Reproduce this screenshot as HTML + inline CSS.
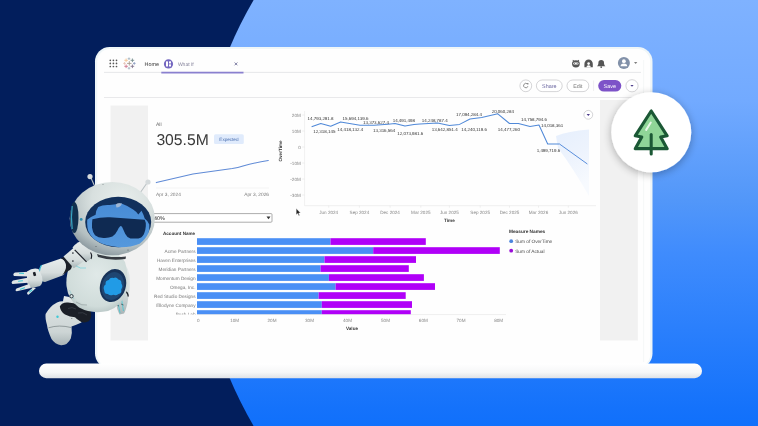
<!DOCTYPE html>
<html><head><meta charset="utf-8">
<style>
html,body{margin:0;padding:0;width:758px;height:426px;overflow:hidden;background:#021e5c;}
svg{display:block;will-change:transform;filter:blur(0.3px);text-rendering:geometricPrecision;font-family:"Liberation Sans",sans-serif;}
</style></head>
<body>
<svg width="758" height="426" viewBox="0 0 758 426">
<defs>
  <linearGradient id="bgb" x1="0" y1="0" x2="0" y2="1">
    <stop offset="0" stop-color="#7fb2ff"/>
    <stop offset="0.235" stop-color="#72aaff"/>
    <stop offset="0.47" stop-color="#5297f9"/>
    <stop offset="0.59" stop-color="#408cfd"/>
    <stop offset="0.96" stop-color="#1472fb"/>
    <stop offset="1" stop-color="#1070fb"/>
  </linearGradient>
  <linearGradient id="base" x1="0" y1="0" x2="0" y2="1">
    <stop offset="0" stop-color="#ffffff"/>
    <stop offset="0.6" stop-color="#f6f7f8"/>
    <stop offset="1" stop-color="#dfe2e6"/>
  </linearGradient>
  <filter id="sh" x="-30%" y="-30%" width="160%" height="160%">
    <feGaussianBlur in="SourceAlpha" stdDeviation="3"/>
    <feOffset dx="0" dy="2"/>
    <feComponentTransfer><feFuncA type="linear" slope="0.25"/></feComponentTransfer>
    <feMerge><feMergeNode/><feMergeNode in="SourceGraphic"/></feMerge>
  </filter>
  <filter id="sh2" x="-30%" y="-30%" width="160%" height="160%">
    <feGaussianBlur in="SourceAlpha" stdDeviation="4"/>
    <feOffset dx="-0.5" dy="1.5"/>
    <feComponentTransfer><feFuncA type="linear" slope="0.3"/></feComponentTransfer>
    <feMerge><feMergeNode/><feMergeNode in="SourceGraphic"/></feMerge>
  </filter>

  <radialGradient id="helm" cx="0.62" cy="0.25" r="0.8">
    <stop offset="0" stop-color="#e8eeec"/>
    <stop offset="0.45" stop-color="#d8e0df"/>
    <stop offset="0.8" stop-color="#b4bfc1"/>
    <stop offset="1" stop-color="#85939a"/>
  </radialGradient>
  <radialGradient id="bodyg" cx="0.5" cy="0.4" r="0.78">
    <stop offset="0" stop-color="#e0e9e8"/>
    <stop offset="0.65" stop-color="#d0dcda"/>
    <stop offset="1" stop-color="#9aaaab"/>
  </radialGradient>
  <linearGradient id="armg" x1="0" y1="0" x2="0" y2="1">
    <stop offset="0" stop-color="#e8eded"/>
    <stop offset="0.6" stop-color="#d6dddd"/>
    <stop offset="1" stop-color="#a8b4b6"/>
  </linearGradient>
  <linearGradient id="footg" x1="0" y1="0" x2="0" y2="1">
    <stop offset="0" stop-color="#dde3e3"/>
    <stop offset="0.7" stop-color="#cdd5d5"/>
    <stop offset="1" stop-color="#aab5b7"/>
  </linearGradient>
  <linearGradient id="faceg" x1="0" y1="0" x2="0" y2="1">
    <stop offset="0" stop-color="#488cd6"/>
    <stop offset="1" stop-color="#5598dc"/>
  </linearGradient>
  <linearGradient id="cone" x1="0" y1="0" x2="0.3" y2="1">
    <stop offset="0" stop-color="#e6effd"/>
    <stop offset="0.5" stop-color="#edf3fd"/>
    <stop offset="1" stop-color="#f7fafe"/>
  </linearGradient>
  <clipPath id="clipbar"><rect x="100" y="200" width="200" height="114.4"/></clipPath>
</defs>
<!-- background -->
<rect x="0" y="0" width="758" height="426" fill="#021e5c"/>
<path d="M253.6 0 A423 423 0 0 0 253.6 426 L758 426 L758 0 Z" fill="url(#bgb)"/>

<!-- laptop screen -->
<rect x="95" y="47" width="557.5" height="321" rx="14.5" fill="#eff6f8"/>
<rect x="97.2" y="49" width="553" height="318" rx="12.5" fill="#fefefe"/>

<!-- ===== screen content ===== -->
<g id="header">
  <line x1="104" y1="72.4" x2="641" y2="72.4" stroke="#e3e4e6" stroke-width="0.9"/>
  <line x1="104" y1="97.5" x2="641" y2="97.5" stroke="#e6e7e9" stroke-width="0.9"/>
  <line x1="643.6" y1="60" x2="643.6" y2="362" stroke="#f1f3f4" stroke-width="0.7"/>
  <!-- grid icon -->
  <g fill="#555">
    <circle cx="110.3" cy="60.3" r="0.85"/><circle cx="113.4" cy="60.3" r="0.85"/><circle cx="116.5" cy="60.3" r="0.85"/>
    <circle cx="110.3" cy="63.4" r="0.85"/><circle cx="113.4" cy="63.4" r="0.85"/><circle cx="116.5" cy="63.4" r="0.85"/>
    <circle cx="110.3" cy="66.5" r="0.85"/><circle cx="113.4" cy="66.5" r="0.85"/><circle cx="116.5" cy="66.5" r="0.85"/>
  </g>
  <!-- tableau logo -->
  <g stroke-width="0.9" stroke-linecap="round" opacity="0.75">
    <path d="M129.3 61.6v3.6M127.5 63.4h3.6" stroke="#8a7a6a"/>
    <path d="M126.1 58.9v2.8M124.7 60.3h2.8" stroke="#f0b070"/>
    <path d="M132.4 58.9v2.8M131 60.3h2.8" stroke="#4a6a6a"/>
    <path d="M126.1 64.9v2.8M124.7 66.3h2.8" stroke="#c04a6a"/>
    <path d="M132.4 64.9v2.8M131 66.3h2.8" stroke="#5a4a6a"/>
    <path d="M129 57.8v1.8M128.1 58.7h1.8" stroke="#8aa0b0"/>
    <path d="M129 67.3v1.8M128.1 68.2h1.8" stroke="#8aa0b0"/>
    <path d="M134.3 62.5v1.8M133.4 63.4h1.8" stroke="#6a80b0"/>
    <path d="M124.5 62.5v1.8M123.6 63.4h1.8" stroke="#e0b0a0"/>
  </g>
  <text x="144.6" y="65.9" font-size="5.4" fill="#3a3a3a">Home</text>
  <!-- what if tab -->
  <circle cx="168.5" cy="63.9" r="4.6" fill="#7467c0"/>
  <rect x="166" y="61.3" width="2" height="5.2" rx="0.6" fill="#fff"/>
  <rect x="169" y="61.3" width="2" height="2.2" rx="0.5" fill="#fff"/>
  <rect x="169" y="64.2" width="2" height="2.3" rx="0.5" fill="#fff"/>
  <text x="177.9" y="65.9" font-size="5" fill="#86849c">What If</text>
  <path d="M234.6 62.5l2.8 2.8M237.4 62.5l-2.8 2.8" stroke="#5a5a8a" stroke-width="0.75"/>
  <line x1="161.3" y1="72.6" x2="243.5" y2="72.6" stroke="#8a80cf" stroke-width="1.6"/>
  <!-- right icons -->
  <g fill="#555">
    <path d="M572 63.8a3.9 3.6 0 0 1 7.8 0a3.9 3.6 0 0 1 -7.8 0z"/>
    <path d="M572.6 61.2l0.3-1.4l1.5 0.9zM579.2 61.2l-0.3-1.4l-1.5 0.9z"/>
    <rect x="573.2" y="62.6" width="5.4" height="2" rx="1" fill="#fff"/><circle cx="574.6" cy="63.6" r="0.5"/><circle cx="577.2" cy="63.6" r="0.5"/>
    <path d="M584.4 67.3v-3.2a4.2 4.6 0 0 1 8.4 0v3.2z"/>
    <circle cx="588.6" cy="63.6" r="1.3" fill="#fff"/>
    <path d="M586.4 67.2a2.2 2 0 0 1 4.4 0z" fill="#fff"/>
    <path d="M597 66.2c1.2-1 1.4-2 1.4-3.4a2.8 2.8 0 0 1 5.6 0c0 1.4 0.2 2.4 1.4 3.4z"/>
    <circle cx="601.2" cy="67.1" r="0.9"/>
  </g>
  <circle cx="623.9" cy="62.9" r="6" fill="#8291a9"/>
  <circle cx="623.9" cy="61.2" r="1.9" fill="#fff"/>
  <path d="M620.6 66.2a3.3 2.6 0 0 1 6.6 0z" fill="#fff"/>
  <path d="M634 62.3h3.3l-1.65 1.5z" fill="#555"/>
</g>
<g id="toolbar">
  <circle cx="525.8" cy="85.8" r="5.9" fill="#fff" stroke="#b8b8bc" stroke-width="0.6"/>
  <path d="M527.5 84.2a2.2 2.2 0 1 0 0.4 2" fill="none" stroke="#666" stroke-width="0.7"/>
  <path d="M526.8 83.3l1.6-0.3l-0.2 1.8z" fill="#666"/>
  <rect x="536.4" y="80" width="25.8" height="11.6" rx="5.8" fill="#fff" stroke="#b8b8bc" stroke-width="0.6"/>
  <text x="549.3" y="87.7" font-size="5.4" fill="#6a66a0" text-anchor="middle">Share</text>
  <rect x="567" y="80" width="21.8" height="11.6" rx="5.8" fill="#fff" stroke="#b8b8bc" stroke-width="0.6"/>
  <text x="577.9" y="87.7" font-size="5.4" fill="#777" text-anchor="middle">Edit</text>
  <line x1="593.6" y1="80.5" x2="593.6" y2="91" stroke="#e2e2e2" stroke-width="0.6"/>
  <rect x="598.2" y="80" width="23.1" height="11.6" rx="5.8" fill="#7d52c8"/>
  <text x="609.75" y="87.7" font-size="5.4" fill="#fff" text-anchor="middle">Save</text>
  <circle cx="632" cy="85.8" r="6.1" fill="#fff" stroke="#b8b8bc" stroke-width="0.6"/>
  <path d="M630.4 85h3.2l-1.6 1.8z" fill="#4a3a8a"/>
</g>


<g id="panels">
  <rect x="110.5" y="105.5" width="37.5" height="235" fill="#f1f1f1"/>
  <rect x="600" y="100" width="37.8" height="240.5" fill="#f1f1f1"/>
</g>
<g id="kpi">
  <text x="156" y="126" font-size="5" fill="#666">All</text>
  <text x="156.4" y="145" font-size="15.7" fill="#3a3a3a">305.5M</text>
  <rect x="214" y="134.2" width="29.8" height="9.8" rx="1.5" fill="#e0ebfc"/>
  <text x="228.9" y="141.2" font-size="4.6" fill="#4a6fb0" text-anchor="middle">Expected</text>
  <line x1="156" y1="188" x2="269" y2="188" stroke="#efefef" stroke-width="0.6"/>
  <path d="M156.3 182.6 L192.9 174 L232.3 168.6 Q238 167.6 243 166 Q255 162.6 268.3 160.6" fill="none" stroke="#5f8ad6" stroke-width="1.05" stroke-linecap="round"/>
  <text x="156" y="195.5" font-size="4.8" fill="#777">Apr 3, 2024</text>
  <text x="269" y="195.5" font-size="4.8" fill="#777" text-anchor="end">Apr 3, 2026</text>
</g>
<g id="areachart" font-size="4.6" fill="#888">
  <line x1="304.6" y1="111" x2="304.6" y2="205.7" stroke="#e6e6e6" stroke-width="0.6"/>
  <line x1="304.6" y1="205.7" x2="596" y2="205.7" stroke="#e6e6e6" stroke-width="0.6"/>
  <g text-anchor="end">
    <text x="300.8" y="116.8">20M</text>
    <text x="300.8" y="132.8">10M</text>
    <text x="300.8" y="148.8">0</text>
    <text x="300.8" y="164.8">-10M</text>
    <text x="300.8" y="180.8">-20M</text>
    <text x="300.8" y="196.8">-30M</text>
  </g>
  <path d="M302.2 115h2.4M302.2 131h2.4M302.2 147h2.4M302.2 163h2.4M302.2 179h2.4M302.2 195h2.4" stroke="#e0e0e0" stroke-width="0.5"/>
  <path d="M328.7 205.7v2M359.4 205.7v2M390.1 205.7v2M420.8 205.7v2M449.4 205.7v2M480.2 205.7v2M509.5 205.7v2M538.5 205.7v2M568.3 205.7v2" stroke="#e0e0e0" stroke-width="0.5"/>
  <text transform="translate(281.6 151) rotate(-90)" text-anchor="middle" font-size="4.6" fill="#333" font-weight="bold">OverTime</text>
  <g text-anchor="middle">
    <text x="328.7" y="213.5">Jun 2024</text>
    <text x="359.4" y="213.5">Sep 2024</text>
    <text x="390.1" y="213.5">Dec 2024</text>
    <text x="420.8" y="213.5">Mar 2025</text>
    <text x="449.4" y="213.5">Jun 2025</text>
    <text x="480.2" y="213.5">Sep 2025</text>
    <text x="509.5" y="213.5">Dec 2025</text>
    <text x="538.5" y="213.5">Mar 2026</text>
    <text x="568.3" y="213.5">Jun 2026</text>
  </g>
  <text x="449.4" y="222" text-anchor="middle" font-weight="bold" fill="#333">Time</text>
  <!-- forecast cone -->
  <path d="M556 136 Q568 131 589 129.5 L589 196 Q573 168 558 148 Z" fill="url(#cone)"/>
  <path d="M311.6 126.8 L320.8 123.5 L330.7 126.2 L340.6 121.9 L360 125.2 L374 125.3 L388 124.2 L395 123.6 L405 126.1 L414 124.5 L420 124 L437.6 122.9 L449.4 125.5 L459.6 124.4 L470 119 L481.7 117.6 L497.8 113.8 L509.5 123.5 L518.4 123.5 L530 126.4 L539 125 L547.7 144 L559.5 144" fill="none" stroke="#5089d8" stroke-width="1.05" stroke-linejoin="round"/>
  <path d="M559.5 144 L587.4 164" fill="none" stroke="#5a8fdc" stroke-width="1"/>
  <circle cx="588.3" cy="114.8" r="4.4" fill="#fff" stroke="#b8b8bc" stroke-width="0.6"/>
  <path d="M586.6 114h3.4l-1.7 1.9z" fill="#4a3a8a"/>
  <g font-size="4.45" fill="#333">
    <text x="307.6" y="120.2">14,793,291.8</text>
    <text x="313.2" y="133">12,318,145</text>
    <text x="342.6" y="119.5">15,694,139.6</text>
    <text x="337.3" y="130.7">14,418,132.4</text>
    <text x="363" y="123.5">13,373,627.4</text>
    <text x="373" y="131.7">13,316,564</text>
    <text x="392.7" y="122">14,491,498</text>
    <text x="397.3" y="134.6">12,073,981.6</text>
    <text x="421.8" y="122.2">14,248,787.4</text>
    <text x="431.7" y="131">13,642,851.4</text>
    <text x="456" y="116.1">17,094,284.4</text>
    <text x="461.3" y="130.7">14,240,119.6</text>
    <text x="491.7" y="112.9">20,060,284</text>
    <text x="497.8" y="130.9">14,477,260</text>
    <text x="521" y="121.3">14,758,794.6</text>
    <text x="541" y="126.6">14,018,361</text>
    <text x="536.7" y="151.5">1,499,719.6</text>
  </g>
</g>


<g id="barchart">
  <rect x="152" y="213.6" width="120" height="8.6" rx="1" fill="#fff" stroke="#8a8a8a" stroke-width="0.7"/>
  <text x="154" y="220" font-size="5.4" fill="#222">40%</text>
  <path d="M266.5 216.6h4l-2 2.6z" fill="#333"/>
  <text x="163" y="234.8" font-size="4.6" font-weight="bold" fill="#333">Account Name</text>
  <rect x="197" y="238.2" width="133.5" height="6.7" fill="#4a8ff5"/>
  <rect x="330.5" y="238.2" width="95.3" height="6.7" fill="#b000f8"/>
  <rect x="197" y="247.2" width="176.2" height="6.7" fill="#4a8ff5"/>
  <rect x="373.2" y="247.2" width="126.6" height="6.7" fill="#b000f8"/>
  <rect x="197" y="256.2" width="127.5" height="6.7" fill="#4a8ff5"/>
  <rect x="324.5" y="256.2" width="91.5" height="6.7" fill="#b000f8"/>
  <rect x="197" y="265.2" width="123.6" height="6.7" fill="#4a8ff5"/>
  <rect x="320.6" y="265.2" width="88.2" height="6.7" fill="#b000f8"/>
  <rect x="197" y="274.2" width="131.9" height="6.7" fill="#4a8ff5"/>
  <rect x="328.9" y="274.2" width="95.0" height="6.7" fill="#b000f8"/>
  <rect x="197" y="283.2" width="138.6" height="6.7" fill="#4a8ff5"/>
  <rect x="335.6" y="283.2" width="99.4" height="6.7" fill="#b000f8"/>
  <rect x="197" y="292.2" width="121.6" height="6.7" fill="#4a8ff5"/>
  <rect x="318.6" y="292.2" width="87.1" height="6.7" fill="#b000f8"/>
  <rect x="197" y="301.2" width="124.8" height="6.7" fill="#4a8ff5"/>
  <rect x="321.8" y="301.2" width="90.2" height="6.7" fill="#b000f8"/>
  <rect x="197" y="310.2" width="124.8" height="4.2" fill="#4a8ff5"/>
  <rect x="321.8" y="310.2" width="89.0" height="4.2" fill="#b000f8"/>
  <line x1="197" y1="314.6" x2="506" y2="314.6" stroke="#e2e2e2" stroke-width="0.6"/>
  <g font-size="4.7" fill="#777" text-anchor="end">
  <text x="195.5" y="253.1">Acme Partners</text>
  <text x="195.5" y="262.1">Haven Enterprises</text>
  <text x="195.5" y="271.1">Meridian Partners</text>
  <text x="195.5" y="280.1">Momentum Design</text>
  <text x="195.5" y="289.1">Omega, Inc.</text>
  <text x="195.5" y="298.1">Red Studio Designs</text>
  <text x="195.5" y="307.1">Ellodyne Company</text>
  <text x="195.5" y="316.1" clip-path="url(#clipbar)">Bush Lab</text>
  </g>
  <g font-size="4.6" fill="#888" text-anchor="middle">
    <text x="198.2" y="322">0</text>
    <text x="234.6" y="322">10M</text>
    <text x="272" y="322">20M</text>
    <text x="309.5" y="322">30M</text>
    <text x="347.5" y="322">40M</text>
    <text x="385.5" y="322">50M</text>
    <text x="423.3" y="322">60M</text>
    <text x="461" y="322">70M</text>
    <text x="498.7" y="322">80M</text>
  </g>
  <text x="352" y="330.3" font-size="4.6" font-weight="bold" fill="#333" text-anchor="middle">Value</text>
  <text x="509" y="233" font-size="4.75" font-weight="bold" fill="#333">Measure Names</text>
  <circle cx="511.2" cy="241.2" r="1.9" fill="#4a84de"/>
  <text x="515.2" y="243" font-size="4.75" fill="#4a4a4a">Sum of OverTime</text>
  <circle cx="511.2" cy="250.7" r="1.9" fill="#9a0cd8"/>
  <text x="515.2" y="252.5" font-size="4.75" fill="#4a4a4a">Sum of Actual</text>
  <!-- cursor -->
  <path d="M296.2 208.5 L296.2 214.8 L297.7 213.5 L298.8 215.8 L299.7 215.4 L298.7 213.1 L300.6 213 Z" fill="#222" stroke="#fff" stroke-width="0.4"/>
</g>

<!-- base -->
<rect x="39" y="363.6" width="663" height="14.6" rx="7.3" fill="url(#base)"/>

<g id="badge">
  <circle cx="651.3" cy="132.2" r="40" fill="#fff" filter="url(#sh2)"/>
  <g transform="translate(651.2 132) scale(1.05) translate(-651.2 -132)">
  <path d="M651.2 112 L636 135.6 L642.2 136.8 L636 147.9 L666.4 147.9 L660.2 136.8 L666.4 135.6 Z" fill="#8fd597" stroke="#1b5835" stroke-width="3" stroke-linejoin="round"/>
  <line x1="651.2" y1="134.4" x2="651.2" y2="153" stroke="#1b5835" stroke-width="2.9" stroke-linecap="round"/>
  <line x1="650.8" y1="123" x2="646.4" y2="130" stroke="#e8f7e8" stroke-width="1.9" stroke-linecap="round"/>
  </g>
</g>



<g id="robot">
  <!-- foot / leg -->
  <path d="M64 296 Q72 297 80 302 L86 308 L74 313 L62 306 Z" fill="url(#armg)"/>
  <path d="M45.6 314 Q50 306 57 302.5 Q62 300.5 66 302 L76 310 Q80 316 81.5 322.5 Q76 325 71.5 326.5 Q72.5 333 70.8 338.5 Q67.5 345.5 61 345.2 Q55 344.5 51.5 339 Q47.5 330 47 325 Q45 318 45.6 314 Z" fill="url(#footg)"/>
  <path d="M48.5 327.8 Q59 324.5 71 327.5" fill="none" stroke="#5d686b" stroke-width="0.55"/>
  <circle cx="57.5" cy="316.8" r="1.2" fill="#3fc9d6"/>
  <circle cx="71.8" cy="318.5" r="0.5" fill="#5d686b"/>
  <path d="M59.8 306.5 Q62 302 68 302.5 Q74 303 78 304.5 Q86 306 90.5 311 Q92.5 317 89 321 Q85 323.5 80.5 321.5 Q77 319.5 75 317.2 Q70 317 65 314.5 Q60.5 311.5 59.8 306.5 Z" fill="#1b1f27"/>
  <path d="M68 308.5 Q72 306.5 76 309 M78 313 Q83 311.5 87 315" stroke="#3a3f48" stroke-width="0.8" fill="none"/>
  <!-- right small arm -->
  <path d="M117 258 Q127 262 129.5 275 Q130.5 288 128.5 296 L127.5 303 Q126 310 124 313.5 L119.5 314.5 Q116.5 309 116 302 L115 290 Z" fill="url(#armg)"/>
  <path d="M124.5 291 Q128 292 128.2 296.5" stroke="#1b1f27" stroke-width="1.3" fill="none"/>
  <path d="M117.5 300 L120 313 M121.5 299 L123.5 311" stroke="#3fc9d6" stroke-width="0.9" opacity="0.85"/>
  <path d="M116.5 305 L119 306 M121 304 L123.5 305" stroke="#2a3238" stroke-width="0.6"/>
  <!-- torso -->
  <path d="M71 262 Q65.5 275 66.5 286 Q68 300 79 307.5 Q92 314.5 108 311 Q122 306 126.4 292 Q129.5 276 125 262 Q118 250 100 249.5 Q80 250 71 262 Z" fill="url(#bodyg)"/>
  <path d="M69.5 290 Q72 296 74 299" fill="none" stroke="#5ab8c8" stroke-width="0.6" opacity="0.6"/>
  <circle cx="71.5" cy="296.2" r="1.7" fill="#dfe8e6" stroke="#22303a" stroke-width="0.9"/>
  <path d="M76 302 Q82 306 87 305" fill="none" stroke="#7d888b" stroke-width="0.5"/>
  <!-- chest disc -->
  <ellipse cx="113" cy="285.6" rx="12.8" ry="16.8" transform="rotate(18 113 285.6)" fill="#173258"/>
  <ellipse cx="112.8" cy="286" rx="10.8" ry="14.2" transform="rotate(18 112.8 286)" fill="#1f4672"/>
  <path d="M104.2 290.5 Q102.6 286.5 105.6 284.6 Q105 280.4 108.8 280 Q110.2 277 113.6 278 Q116.5 276.8 118.4 279.4 Q121.8 280 121.4 283.6 Q123.4 286.5 121.2 289.4 Q122 293.4 118.4 294 Q116.2 296 113.2 294.8 Q110 296.2 107.8 294 Q104.4 294.2 104.2 290.5 Z" fill="#219be6"/>
  <!-- forearm -->
  <path d="M42 265 L61 258.5 Q66 259.5 66.5 266.5 Q66 273.5 62.5 275.5 L45 282 Q39.5 282 39 274 Q39 267 42 265 Z" fill="url(#armg)"/>
  <path d="M41.5 265 Q38.5 270 39.5 278 L42 281.5" stroke="#2fb4d0" stroke-width="1.2" fill="none"/>
  <path d="M60.5 258 L67.5 256.5 Q72.5 259 72 265.5 Q71.5 270 68 271 L62 275.5 Q66.5 270 66 265 Q65 259.5 60.5 258 Z" fill="#1b1f27"/>
  <!-- hand -->
  <path d="M27 271.5 Q32.5 267.5 38.5 269 L42 276.5 Q43.5 283.5 40 286 L32 288 Q28 287 27 282 Z" fill="url(#armg)"/>
  <rect x="33.2" y="272" width="2.6" height="4" rx="0.6" fill="#1b1f27" transform="rotate(-15 34.5 274)"/>
  <path d="M28.5 271.8 L15 272.5 Q12.2 274 14 276 L28 276.4 Z" fill="#dfe5e5"/>
  <path d="M27.5 277.8 L13 280.5 Q10.5 282.3 12.5 284 L28 282.8 Z" fill="#dfe5e5"/>
  <path d="M29 284 L16.5 288.5 Q14.5 290.8 16.8 291.3 L31 288 Z" fill="#dfe5e5"/>
  <path d="M33 287.5 L27.2 292.5 Q26.5 295 28.8 294.6 L36 288 Z" fill="#dfe5e5"/>
  <path d="M19.5 273.2 L23.5 273.4 M18.5 281.3 L22.5 280.8 M20.5 289.3 L24.5 287.8 M29.5 292 L32 290" stroke="#3fc9d6" stroke-width="1.1" stroke-linecap="round"/>
  <!-- shoulder / upper arm -->
  <path d="M63.5 256.5 L73.8 247.8 L86 259.5 L73.8 268.2 Z" fill="url(#armg)"/>
  <path d="M72.5 247.5 Q79 239.5 85 241 Q91 245 93 253 Q92.5 259 86.5 261.5 Z" fill="url(#armg)"/>
  <path d="M74.7 249.8 L86.5 261.8" stroke="#1b1f27" stroke-width="1.2"/>
  <path d="M90.5 252.5 Q92.5 255.5 91 259" stroke="#1b1f27" stroke-width="1.1" fill="none"/>
  <circle cx="72.9" cy="253.1" r="0.8" fill="#1b1f27"/><circle cx="72.9" cy="261.1" r="0.8" fill="#1b1f27"/>
  <path d="M76 266 Q80 269 86 268" fill="none" stroke="#3fc9d6" stroke-width="0.8" opacity="0.6"/>
  <!-- neck -->
  <path d="M97 254 Q110 258.5 126 256.5 L125.5 259 Q110 261 98 257 Z" fill="#1b1f27" opacity="0.85"/>
  <!-- antennas -->
  <line x1="91" y1="178" x2="95.5" y2="188" stroke="#b9c1c4" stroke-width="1.1"/>
  <circle cx="90" cy="176.6" r="2.6" fill="#d5dadc"/>
  <line x1="147" y1="183" x2="140" y2="193" stroke="#b9c1c4" stroke-width="1.1"/>
  <circle cx="148" cy="182" r="2.6" fill="#d5dadc"/>
  <!-- head -->
  <ellipse cx="112.3" cy="218.6" rx="42.6" ry="36.7" fill="url(#helm)"/>
  <ellipse cx="74.3" cy="217.5" rx="4.2" ry="15.5" fill="#12304e"/>
  <path d="M72.2 206 Q70.6 217.5 72.2 229" stroke="#3fb8d8" stroke-width="1.2" fill="none" opacity="0.85"/>
  <circle cx="81.2" cy="219.4" r="1.4" fill="#2f8fb0"/>
  <circle cx="103" cy="184.5" r="0.6" fill="#8a9496"/>
  <circle cx="96" cy="246.5" r="0.6" fill="#5a6466"/><circle cx="128" cy="250" r="0.6" fill="#5a6466"/>
  <ellipse cx="118.2" cy="222" rx="33" ry="25.2" fill="#11305c"/>
  <path d="M87.2 219.8 Q91 216.5 95.6 214.7 Q96 210 98.2 206.9 Q103 204.5 109.8 205 Q116 204.6 121.5 203.6 Q128 206 133.1 209.6 Q136 211.5 138.3 214.4 L141.5 210.8 Q143.5 214.5 144.7 218.5 Q148 221 149.3 224.4 Q149.6 229 148.6 232.8 Q145.5 239.5 139.6 243.7 Q130 247.6 118.9 247.2 Q106 246 98.2 241.8 Q91.5 238 89.2 232.8 Q86.8 229 87.2 219.8 Z" fill="url(#faceg)"/>
  <path d="M115.8 204.5 Q118.5 202.2 122 203.6 Q120.5 207.4 116.5 207.6 Z" fill="#b5c3d6" opacity="0.8"/>
  <path d="M92.4 219.2 Q101 217 109.8 217.3 L144.7 219.8 Q146.2 222.5 145.8 226.3 Q145.6 230.5 144 234 Q141.8 238 138.3 238.6 L130.5 238.6 Q127 237.5 125.3 234 Q123.5 230 122.1 227 Q121 225.6 120.2 226.3 Q118.5 228 117.6 230.2 Q115.5 234.5 112.4 236.6 Q108.5 238.2 103.4 237.9 Q98 237.8 95 235.3 Q92.5 232 92 227.6 Q91.8 223 92.4 219.2 Z" fill="#0f2a52"/>
</g>

</svg>
</body></html>
